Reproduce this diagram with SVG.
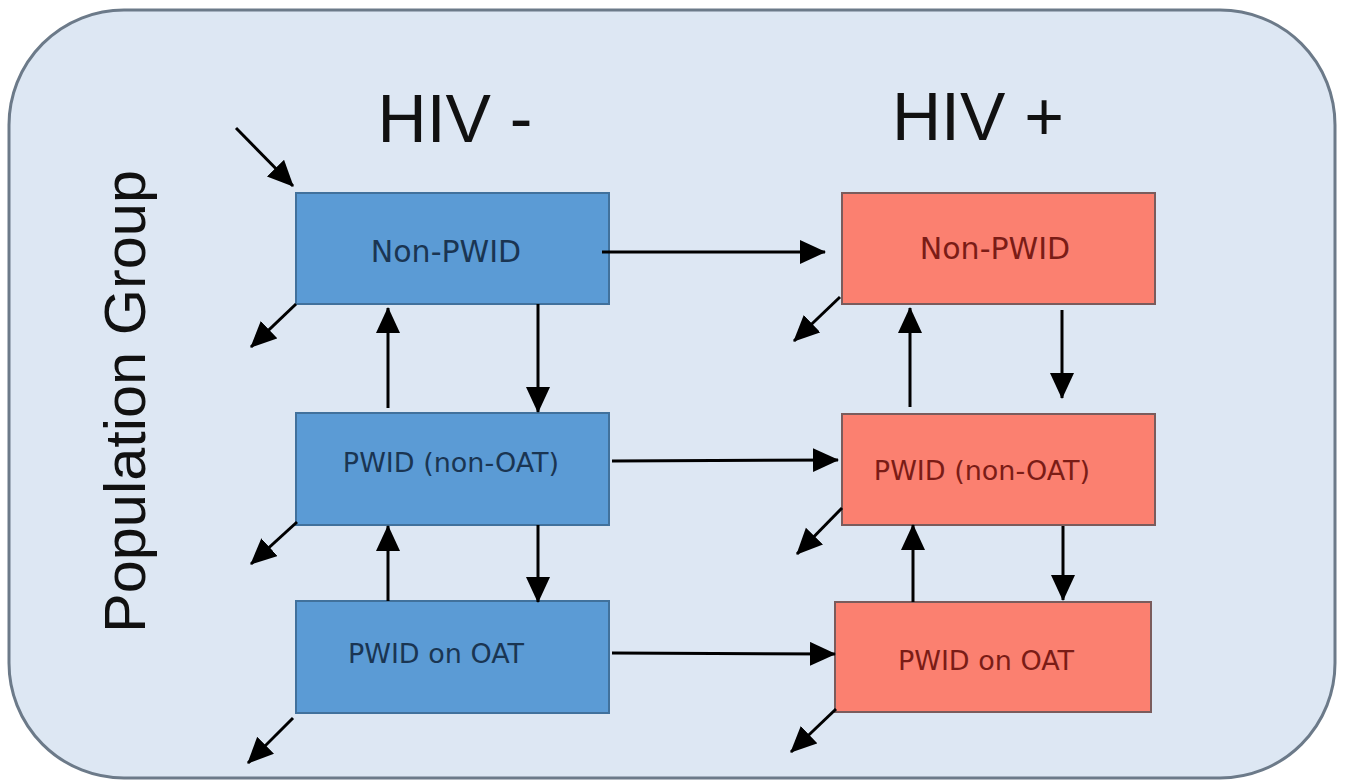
<svg xmlns="http://www.w3.org/2000/svg" width="1345" height="781" viewBox="0 0 1345 781">
<defs>
<marker id="ah" markerUnits="userSpaceOnUse" markerWidth="28" markerHeight="26" refX="25" refY="12" orient="auto">
<path d="M0,0 L26,12 L0,24 z" fill="#000"/>
</marker>
<style>
.frame{fill:#dde7f3;stroke:#6c7a89;stroke-width:3}
.blue{fill:#5b9bd5;stroke:#41719c;stroke-width:2}
.red{fill:#fb8070;stroke:#7a5c5c;stroke-width:2}
.tb{font-family:"DejaVu Sans",sans-serif;fill:#1a3552;text-anchor:middle}
.tr{font-family:"DejaVu Sans",sans-serif;fill:#7a1c16;text-anchor:middle}
.head{font-family:"Liberation Sans",Arial,sans-serif;font-size:68px;fill:#111;text-anchor:middle}
.side{font-family:"Liberation Sans",Arial,sans-serif;font-size:57px;fill:#111}
.c line{stroke:#000;stroke-width:3;marker-end:url(#ah)}
</style>
</defs>
<rect class="frame" x="9" y="10" width="1326" height="768" rx="115" ry="115"/>
<text class="head" x="455" y="142">HIV -</text>
<text class="head" x="978" y="140">HIV +</text>
<text class="side" transform="translate(145,633) rotate(-90)" x="0" y="0" textLength="463" lengthAdjust="spacingAndGlyphs">Population Group</text>
<g id="neg-nonpwid"><rect class="blue" x="296" y="193" width="313" height="111"/><text class="tb" x="446" y="262" font-size="30">Non-PWID</text></g>
<g id="neg-pwid"><rect class="blue" x="296" y="413" width="313" height="112"/><text class="tb" x="451" y="472" font-size="27">PWID (non-OAT)</text></g>
<g id="neg-oat"><rect class="blue" x="296" y="601" width="313" height="112"/><text class="tb" x="436" y="663" font-size="27">PWID on OAT</text></g>
<g id="pos-nonpwid"><rect class="red" x="842" y="193" width="313" height="111"/><text class="tr" x="995" y="259" font-size="30">Non-PWID</text></g>
<g id="pos-pwid"><rect class="red" x="842" y="414" width="313" height="111"/><text class="tr" x="982" y="480" font-size="27">PWID (non-OAT)</text></g>
<g id="pos-oat"><rect class="red" x="835" y="602" width="316" height="110"/><text class="tr" x="986" y="670" font-size="27">PWID on OAT</text></g>
<g class="c" id="connectors">
<line x1="236" y1="128" x2="293" y2="186"/>
<line x1="602" y1="252" x2="825" y2="252"/>
<line x1="612" y1="461" x2="838" y2="460"/>
<line x1="612" y1="653" x2="835" y2="654"/>
<line x1="296" y1="304" x2="251" y2="347"/>
<line x1="297" y1="522" x2="251" y2="564"/>
<line x1="293" y1="718" x2="248" y2="763"/>
<line x1="840" y1="297" x2="794" y2="341"/>
<line x1="842" y1="508" x2="797" y2="554"/>
<line x1="836" y1="709" x2="791" y2="752"/>
<line x1="388" y1="408" x2="388" y2="308"/>
<line x1="538" y1="304" x2="538" y2="412"/>
<line x1="388" y1="601" x2="388" y2="526"/>
<line x1="538" y1="525" x2="538" y2="602"/>
<line x1="910" y1="407" x2="910" y2="308"/>
<line x1="1062" y1="310" x2="1062" y2="398"/>
<line x1="913" y1="602" x2="913" y2="525"/>
<line x1="1063" y1="526" x2="1063" y2="600"/>
</g>
</svg>
